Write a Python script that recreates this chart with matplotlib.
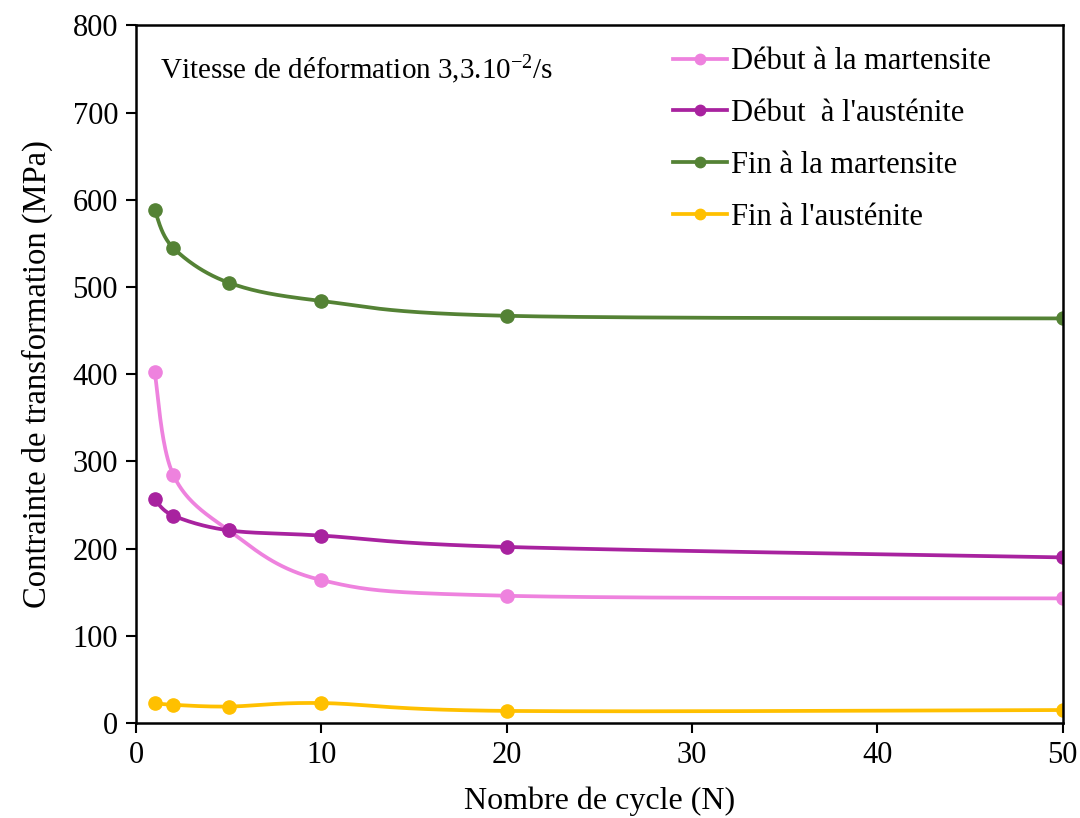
import numpy as np
import matplotlib
matplotlib.use('Agg')
import matplotlib.pyplot as plt

plt.rcParams['font.family'] = ['Liberation Serif', 'DejaVu Serif']
plt.rcParams['mathtext.fontset'] = 'custom'
plt.rcParams['mathtext.rm'] = 'Liberation Serif'
plt.rcParams['mathtext.it'] = 'Liberation Serif:italic'

# cycles and transformation stresses (MPa)
cycles = [1, 2, 5, 10, 20, 50]
debut_martensite = [403, 285, 221, 164, 146, 143]
debut_austenite = [257, 238, 221, 215, 202, 190]
fin_martensite = [588, 545, 505, 484, 467, 464]
fin_austenite = [23, 21, 19, 23, 14, 15]

labels = ['Début à la martensite', 'Début  à l\'austénite',
          'Fin à la martensite', 'Fin à l\'austénite']
colors = ['#EE82DE', '#A8229F', '#548235', '#FFC000']


def smooth(ax, x, y, n=40):
    # Excel-style smoothed line: Bezier segments with control points built in screen space
    pts = ax.transData.transform(np.column_stack([x, y]))
    out = []
    m = len(pts)
    for i in range(m - 1):
        p0 = pts[i - 1] if i > 0 else pts[i]
        p1 = pts[i]
        p2 = pts[i + 1]
        p3 = pts[i + 2] if i + 2 < m else pts[i + 1]
        c1 = p1 + (p2 - p0) / 6
        c2 = p2 - (p3 - p1) / 6
        t = np.linspace(0, 1, n)[:, None]
        seg = ((1 - t) ** 3 * p1 + 3 * (1 - t) ** 2 * t * c1
               + 3 * (1 - t) * t ** 2 * c2 + t ** 3 * p2)
        out.append(seg if i == 0 else seg[1:])
    out = np.vstack(out)
    return ax.transData.inverted().transform(out)


fig = plt.figure(figsize=(10.8, 8.18), dpi=100)
ax = fig.add_axes([0.126, 0.116, 0.858, 0.853])
ax.set_xlim(0, 50)
ax.set_ylim(0, 800)

series = [debut_martensite, debut_austenite, fin_martensite, fin_austenite]
for vals, lab, col in zip(series, labels, colors):
    curve = smooth(ax, cycles, vals)
    ax.plot(curve[:, 0], curve[:, 1], color=col, lw=2.7, solid_capstyle='round')
    ax.plot(cycles, vals, 'o', color=col, ms=9.5)
    ax.plot([], [], '-o', color=col, lw=2.7, ms=7.5, label=lab)

ax.set_xticks(range(0, 51, 10))
ax.set_yticks(range(0, 801, 100))
ax.tick_params(direction='out', length=7, width=1.5, labelsize=22, pad=6)
for s in ax.spines.values():
    s.set_linewidth(1.8)

ax.set_xlabel('Nombre de cycle (N)', fontsize=23, labelpad=12)
ax.set_ylabel('Contrainte de transformation (MPa)', fontsize=23.5, labelpad=14)

ax.text(0.026, 0.96, r'Vitesse de déformation 3,3.10$^{-2}$/s', transform=ax.transAxes,
        fontsize=21, va='top', ha='left')

ax.legend(loc='upper left', bbox_to_anchor=(0.55, 1.008), frameon=False, fontsize=22,
          handlelength=1.75, handletextpad=0.15, labelspacing=0.75)

fig.savefig('out.png', dpi=100)
